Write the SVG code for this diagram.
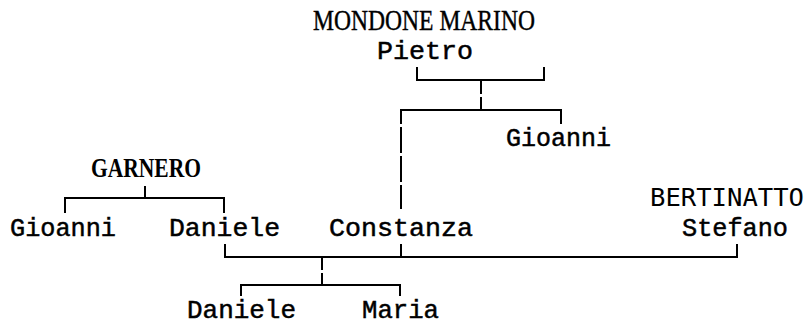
<svg xmlns="http://www.w3.org/2000/svg" width="809" height="326" viewBox="0 0 809 326">
<style>
  .t { font-family: "Liberation Mono", "DejaVu Sans Mono", monospace; font-size: 26px; fill: #000; stroke: #000; stroke-width: 0.5; }
  .s { font-family: "Liberation Serif", "DejaVu Serif", serif; font-size: 29px; fill: #000; stroke: #000; stroke-width: 0.4; }
  .b { font-family: "Liberation Serif", "DejaVu Serif", serif; font-size: 28px; font-weight: bold; fill: #000; }
  .d { font-family: "DejaVu Sans Mono", "Liberation Mono", monospace; font-size: 24px; fill: #000; }
  .c line { stroke: #000; stroke-width: 2; stroke-linecap: butt; fill: none; }
</style>
<rect width="809" height="326" fill="#fff"/>

<g id="connectors" class="c">
  <line x1="417" y1="67" x2="417" y2="80"/>
  <line x1="544" y1="67" x2="544" y2="80"/>
  <line x1="416" y1="80" x2="545" y2="80"/>
  <line x1="481" y1="80" x2="481" y2="94"/>
  <line x1="481" y1="97" x2="481" y2="110"/>
  <line x1="400" y1="110" x2="562" y2="110"/>
  <line x1="561" y1="110" x2="561" y2="124"/>
  <line x1="401" y1="110" x2="401" y2="124"/>
  <line x1="401" y1="127" x2="401" y2="153"/>
  <line x1="401" y1="156" x2="401" y2="182"/>
  <line x1="401" y1="185" x2="401" y2="209"/>
  <line x1="145" y1="186" x2="145" y2="198"/>
  <line x1="64" y1="198" x2="225" y2="198"/>
  <line x1="65" y1="198" x2="65" y2="213"/>
  <line x1="224" y1="198" x2="224" y2="213"/>
  <line x1="225" y1="244" x2="225" y2="257"/>
  <line x1="401" y1="244" x2="401" y2="257"/>
  <line x1="737" y1="244" x2="737" y2="257"/>
  <line x1="224" y1="257" x2="738" y2="257"/>
  <line x1="322" y1="257" x2="322" y2="270"/>
  <line x1="322" y1="273" x2="322" y2="285"/>
  <line x1="240" y1="285" x2="401" y2="285"/>
  <line x1="241" y1="285" x2="241" y2="296"/>
  <line x1="400" y1="285" x2="400" y2="296"/>
</g>

<g id="mondone-marino">
  <text class="s" x="313" y="30" textLength="222" lengthAdjust="spacingAndGlyphs">MONDONE MARINO</text>
</g>
<g id="pietro">
  <text class="t" x="377" y="59" textLength="96" lengthAdjust="spacingAndGlyphs">Pietro</text>
</g>
<g id="gioanni-mondone">
  <text class="t" x="506" y="146" textLength="105" lengthAdjust="spacingAndGlyphs">Gioanni</text>
</g>
<g id="garnero">
  <text class="b" x="91" y="177" textLength="110" lengthAdjust="spacingAndGlyphs">GARNERO</text>
</g>
<g id="gioanni-garnero">
  <text class="t" x="10" y="236" textLength="106" lengthAdjust="spacingAndGlyphs">Gioanni</text>
</g>
<g id="daniele-garnero">
  <text class="t" x="169" y="236" textLength="111" lengthAdjust="spacingAndGlyphs">Daniele</text>
</g>
<g id="constanza">
  <text class="t" x="329" y="236" textLength="144" lengthAdjust="spacingAndGlyphs">Constanza</text>
</g>
<g id="bertinatto">
  <text class="d" x="650" y="206" textLength="154" lengthAdjust="spacingAndGlyphs">BERTINATTO</text>
</g>
<g id="stefano">
  <text class="t" x="682" y="236" textLength="106" lengthAdjust="spacingAndGlyphs">Stefano</text>
</g>
<g id="daniele-child">
  <text class="t" x="187" y="318" font-size="25" textLength="109" lengthAdjust="spacingAndGlyphs">Daniele</text>
</g>
<g id="maria">
  <text class="t" x="362" y="318" font-size="25" textLength="77" lengthAdjust="spacingAndGlyphs">Maria</text>
</g>
</svg>
